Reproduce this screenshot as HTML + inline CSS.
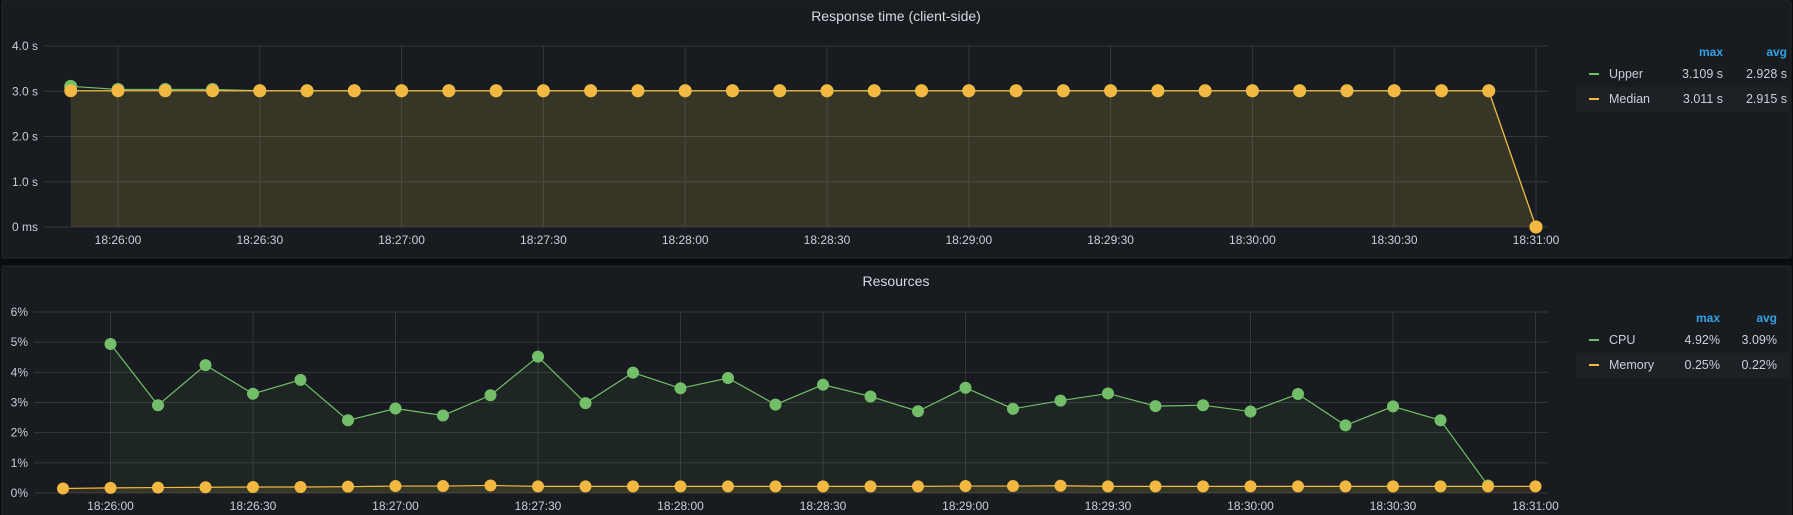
<!DOCTYPE html>
<html><head><meta charset="utf-8"><style>
html,body{margin:0;padding:0;background:#0b0c0e;}
svg{display:block;font-family:"Liberation Sans",sans-serif;}
</style></head><body>
<svg id="s" width="1793" height="515" xmlns="http://www.w3.org/2000/svg">
<rect x="2" y="1" width="1789" height="257" rx="2" fill="#181b1f" stroke="#25282e"/>
<rect x="2" y="266" width="1789" height="260" rx="2" fill="#181b1f" stroke="#25282e"/>
<text x="896" y="21" text-anchor="middle" fill="#d8d9e3" font-size="14">Response time (client-side)</text>
<text x="896" y="286" text-anchor="middle" fill="#d8d9e3" font-size="14">Resources</text>
<g id="g1"></g><g id="g2"></g>
</svg>
<script>
const timeTicks = ["18:26:00","18:26:30","18:27:00","18:27:30","18:28:00","18:28:30","18:29:00","18:29:30","18:30:00","18:30:30","18:31:00"];
const rtYTicks = ["0 ms","1.0 s","2.0 s","3.0 s","4.0 s"];
const rtUpper = [3.109,3.04,3.04,3.04,3.01,3.01,3.01,3.01,3.01,3.01,3.01,3.01,3.01,3.01,3.01,3.01,3.01,3.01,3.01,3.01,3.01,3.01,3.01,3.01,3.01,3.01,3.01,3.01,3.01,3.01,3.01,0];
const rtMedian = [3.011,3.011,3.011,3.011,3.011,3.011,3.011,3.011,3.011,3.011,3.011,3.011,3.011,3.011,3.011,3.011,3.011,3.011,3.011,3.011,3.011,3.011,3.011,3.011,3.011,3.011,3.011,3.011,3.011,3.011,3.011,0];
const resYTicks = ["0%","1%","2%","3%","4%","5%","6%"];
const cpu = [4.94,2.91,4.24,3.29,3.75,2.41,2.80,2.57,3.24,4.52,2.98,3.99,3.47,3.81,2.93,3.59,3.20,2.71,3.49,2.79,3.06,3.30,2.88,2.91,2.70,3.28,2.24,2.87,2.41,0.25];
const memory = [0.15,0.17,0.18,0.19,0.20,0.20,0.21,0.23,0.23,0.25,0.22,0.22,0.22,0.22,0.22,0.22,0.22,0.22,0.22,0.23,0.23,0.24,0.22,0.22,0.22,0.22,0.22,0.22,0.22,0.22,0.22,0.22];
const legend1 = [["Upper","3.109 s","2.928 s"],["Median","3.011 s","2.915 s"]];
const legend2 = [["CPU","4.92%","3.09%"],["Memory","0.25%","0.22%"]];

const NS="http://www.w3.org/2000/svg";
function mk(p,tag,at){const e=document.createElementNS(NS,tag);for(const k in at)e.setAttribute(k,at[k]);p.appendChild(e);return e;}
function txt(p,x,y,s,at){const e=mk(p,'text',Object.assign({x:x,y:y},at));e.textContent=s;return e;}

function panel(g,o){
  const xs=t=>o.x0+(t-10)*o.pxs;
  const ys=v=>o.yb-v*o.pxu;
  const top=ys((o.yt.length-1)*o.step);
  o.yt.forEach((l,i)=>{const y=ys(i*o.step);
    const gl=mk(g,'line',{x1:o.left,x2:o.right,y1:y,y2:y,stroke:'#34363c','stroke-width':1});
    
    
    const tl=txt(g,o.ylx,y+4,l,{fill:'#c7d0d9','font-size':12,'text-anchor':'end'});
    
    
  });
  timeTicks.forEach((l,i)=>{const x=xs(10+i*30);
    const gl=mk(g,'line',{x1:x,x2:x,y1:top,y2:o.yb,stroke:'#34363c'});
    
    
    const tl=txt(g,x,o.yb+17,l,{fill:'#c7d0d9','font-size':12,'text-anchor':'middle'});
    
    
  });
  o.series.forEach(s=>{
    const pts=s.data.map((v,i)=>[xs((s.start+i)*10),ys(v)]);
    const area='M'+pts[0][0]+','+o.yb+' '+pts.map(p=>'L'+p[0]+','+p[1]).join(' ')+' L'+pts[pts.length-1][0]+','+o.yb+'Z';
    const a=mk(g,'path',{d:area,fill:s.fill});
    
    
    const ln=mk(g,'polyline',{points:pts.map(p=>p.join(',')).join(' '),fill:'none',stroke:s.color,'stroke-width':1.2});
    
    
    pts.forEach(p=>{const c=mk(g,'circle',{cx:p[0],cy:p[1],r:o.r,fill:s.color});
      
      });
  });
  const lx=1576;
  const h1=txt(g,o.maxR,o.legY,'max',{fill:'#33a2e5','font-size':12,'font-weight':'bold','text-anchor':'end'});
  
  
  const h2=txt(g,o.avgR,o.legY,'avg',{fill:'#33a2e5','font-size':12,'font-weight':'bold','text-anchor':'end'});
  
  
  o.legend.forEach((r,i)=>{const y=o.legY+22+i*25;
    if(i==1){const b=mk(g,'rect',{x:lx,y:y-16,width:1793-lx-2,height:25,fill:'#1d2025'});
      
      }
    const d=mk(g,'rect',{x:1589,y:y-5,width:10,height:2,fill:o.series[i].color});
    
    
    const n=txt(g,1609,y,r[0],{fill:'#c7d0d9','font-size':12.5});
    
    
    const m=txt(g,o.maxR,y,r[1],{fill:'#c7d0d9','font-size':12.5,'text-anchor':'end'});
    
    
    const a=txt(g,o.avgR,y,r[2],{fill:'#c7d0d9','font-size':12.5,'text-anchor':'end'});
    
    
  });
}
panel(document.getElementById('g1'),{x0:118,pxs:141.8/30,left:43,right:1548,yb:227,pxu:45.25,step:1,yt:rtYTicks,ylx:38,r:6.5,
  legY:56,maxR:1723,avgR:1787,legend:legend1,
  series:[{name:'upper',data:rtUpper,start:0,color:'#73bf69',fill:'rgba(115,191,105,0.06)'},
          {name:'median',data:rtMedian,start:0,color:'#f2b842',fill:'rgba(242,184,66,0.12)'}]});
panel(document.getElementById('g2'),{x0:110.5,pxs:142.5/30,left:34,right:1548,yb:493,pxu:30.17,step:1,yt:resYTicks,ylx:28,r:6,
  legY:322,maxR:1720,avgR:1777,legend:legend2,
  series:[{name:'cpu',data:cpu,start:1,color:'#73bf69',fill:'rgba(115,191,105,0.07)'},
          {name:'memory',data:memory,start:0,color:'#f2b842',fill:'rgba(242,184,66,0.12)'}]});
</script>
</body></html>
